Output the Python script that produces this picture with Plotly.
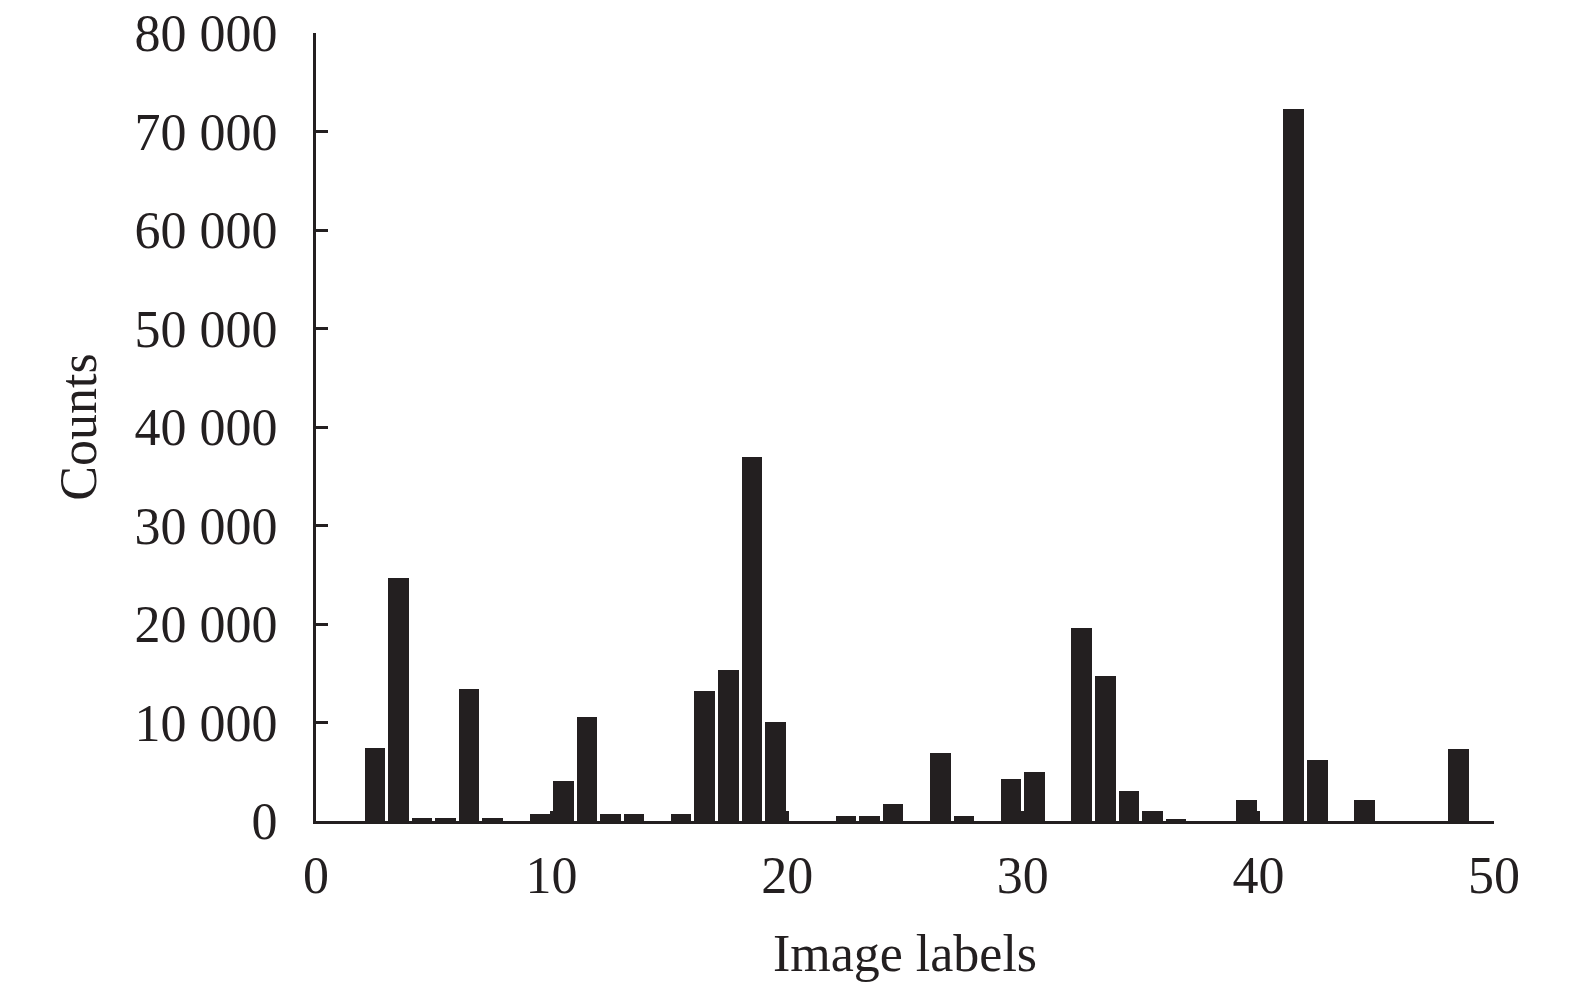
import plotly.graph_objects as go

labels = list(range(50))
counts = [0, 0, 7400, 24650, 300, 300, 13400, 300, 0, 750,
          4100, 10600, 750, 750, 0, 750, 13200, 15300, 37000, 10100,
          0, 0, 500, 500, 1700, 0, 6950, 500, 0, 4300,
          5000, 0, 19600, 14750, 3050, 1000, 250, 0, 0, 2100,
          0, 72300, 6150, 0, 2100, 0, 0, 0, 7350, 0]

x_ticks = [0, 10, 20, 30, 40, 50]
y_ticks = [0, 10000, 20000, 30000, 40000, 50000, 60000, 70000, 80000]
y_ticktext = ["0", "10 000", "20 000", "30 000", "40 000", "50 000", "60 000", "70 000", "80 000"]

INK = "#231f20"
FONT = "Liberation Serif"
FS = 52

centers = [l + 0.5 for l in labels]

fig = go.Figure(go.Bar(
    x=centers, y=counts, width=0.87,
    marker=dict(color=INK, line=dict(width=0)),
    showlegend=False,
))

fig.update_layout(
    width=1575, height=994,
    margin=dict(l=308, r=89, t=25, b=181),
    paper_bgcolor="white", plot_bgcolor="white",
    font=dict(family=FONT, size=FS, color=INK),
    bargap=0,
)

fig.update_xaxes(
    range=[0, 50], tickvals=x_ticks, ticktext=[str(v) for v in x_ticks],
    showgrid=False, zeroline=False, automargin=False,
    showline=True, linecolor=INK, linewidth=3,
    ticks="inside", ticklen=10, tickwidth=3, tickcolor=INK,
    ticklabelstandoff=7, ticklabeloverflow="allow",
    title=dict(text="Image labels", font=dict(family=FONT, size=FS, color=INK), standoff=32),
    tickfont=dict(family=FONT, size=FS, color=INK),
)
fig.update_yaxes(
    range=[0, 80000], tickvals=y_ticks, ticktext=y_ticktext,
    showgrid=False, zeroline=False, automargin=False,
    showline=True, linecolor=INK, linewidth=3,
    ticks="inside", ticklen=12, tickwidth=3, tickcolor=INK,
    ticklabelstandoff=25, ticklabeloverflow="allow",
    title=dict(text="Counts", font=dict(family=FONT, size=FS, color=INK), standoff=22),
    tickfont=dict(family=FONT, size=FS, color=INK),
)

fig.write_html("out.html")
